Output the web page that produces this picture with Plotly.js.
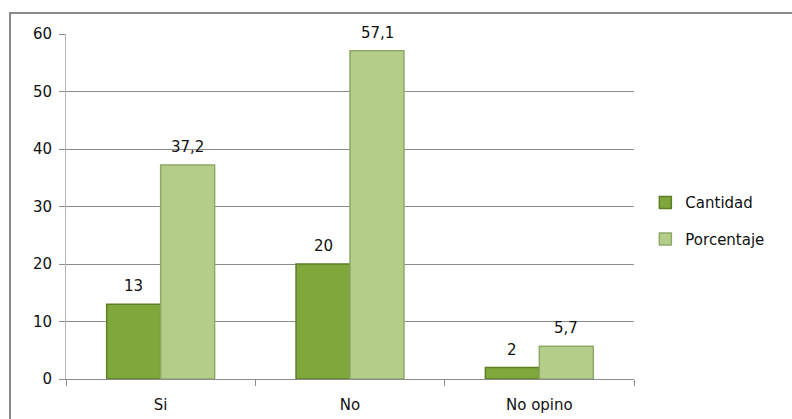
<!DOCTYPE html>
<html>
<head>
<meta charset="utf-8">
<script src="https://cdn.plot.ly/plotly-3.0.1.min.js"></script>
<style>
html,body{margin:0;padding:0;background:#fff;}
#chart{width:792px;height:419px;}
</style>
</head>
<body>
<div id="chart"></div>
<script>
var categories = ["Si", "No", "No opino"];
var cantidad = [13, 20, 2];
var porcentaje = [37.2, 57.1, 5.7];
var seriesNames = ["Cantidad", "Porcentaje"];
var yTicks = [0, 10, 20, 30, 40, 50, 60];

function fmt(v){ return String(v).replace('.', ','); }

var FONT = "DejaVu Sans, sans-serif";

var traces = [
  {
    type: 'bar', name: seriesNames[0], x: categories, y: cantidad,
    legendgroup: 'a',
    marker: {color: '#80a73b', line: {color: '#5e7e24', width: 1.5}},
    hoverinfo: 'none'
  },
  {
    type: 'bar', name: seriesNames[1], x: categories, y: porcentaje,
    legendgroup: 'b',
    marker: {color: '#b4ce8a', line: {color: '#8ea868', width: 1.5}},
    hoverinfo: 'none'
  }
];

var annotations = [];
var series = [cantidad, porcentaje];
var shifts = [-27, 27];
for (var s = 0; s < series.length; s++) {
  for (var i = 0; i < categories.length; i++) {
    annotations.push({
      x: categories[i], y: series[s][i], xref: 'x', yref: 'y',
      text: fmt(series[s][i]), showarrow: false,
      xshift: shifts[s], yshift: 7, yanchor: 'bottom',
      font: {family: FONT, size: 15, color: '#111'}
    });
  }
}

var layout = {
  width: 792, height: 419,
  margin: {l: 66, r: 158, t: 34, b: 40, autoexpand: false},
  paper_bgcolor: '#fff', plot_bgcolor: '#fff',
  font: {family: FONT, size: 15, color: '#111'},
  barmode: 'group', bargap: 0.43, bargroupgap: 0,
  showlegend: true,
  legend: {
    x: 1.02, y: 0.459, xanchor: 'left', yanchor: 'middle',
    font: {family: FONT, size: 15, color: '#111'},
    tracegroupgap: 14, itemwidth: 30,
    bgcolor: 'rgba(0,0,0,0)'
  },
  xaxis: {
    type: 'category', automargin: false,
    showline: true, linecolor: '#8c8c8c', linewidth: 1,
    ticks: 'outside', tickson: 'boundaries', ticklen: 6, tickcolor: '#8c8c8c',
    showgrid: false, zeroline: false,
    tickfont: {family: FONT, size: 15, color: '#111'},
    ticklabelstandoff: 12,
    fixedrange: true
  },
  yaxis: {
    range: [0, 60], tickvals: yTicks, ticktext: yTicks.map(String),
    automargin: false,
    showline: true, linecolor: '#b5b5b5', linewidth: 1,
    ticks: 'outside', ticklen: 6, tickcolor: '#8c8c8c',
    showgrid: true, gridcolor: '#8c8c8c', gridwidth: 1,
    zeroline: false,
    tickfont: {family: FONT, size: 15, color: '#111'},
    ticklabelstandoff: 4,
    fixedrange: true
  },
  annotations: annotations,
  shapes: [{
    type: 'rect', xref: 'paper', yref: 'paper',
    x0: -0.0986, x1: 1.3, y0: -0.15, y1: 1.061,
    line: {color: '#8a8a8a', width: 2}, fillcolor: 'rgba(0,0,0,0)', layer: 'below'
  }]
};

Plotly.newPlot('chart', traces, layout, {displayModeBar: false, staticPlot: true});
</script>
</body>
</html>
